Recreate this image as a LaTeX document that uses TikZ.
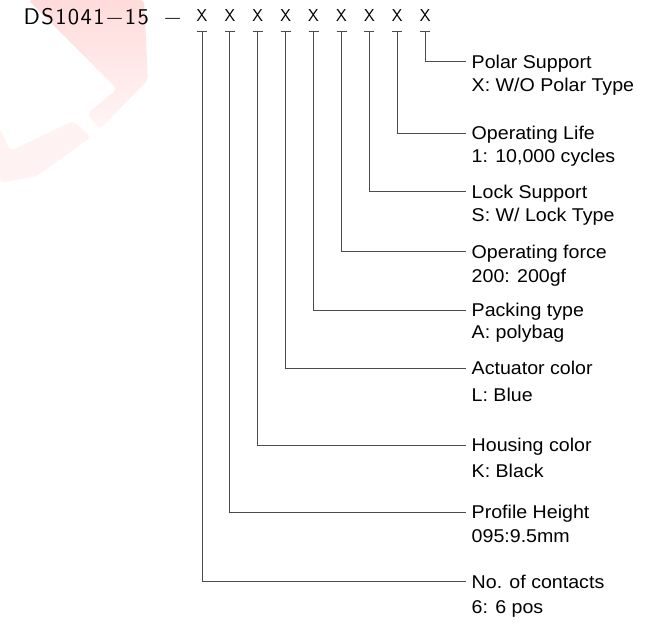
\documentclass[tikz,border=0pt]{standalone}
\usepackage{fontspec}
\usepackage{tikz}
\usetikzlibrary{positioning, calc}
\newfontfamily\labelfont[FakeStretch=1.06]{Liberation Sans}
\newfontfamily\cadfont[LetterSpace=6]{lmsans10-regular.otf}

\begin{document}
\begin{tikzpicture}[
  x=1pt, y=-1pt,
  title/.style={font=\cadfont\fontsize{22.6}{26}\selectfont, anchor=base west, inner sep=0pt},
  digit/.style={font=\sffamily\fontsize{17.2}{20}\selectfont, anchor=base, inner xsep=0pt, inner ysep=9.3pt, text depth=0pt},
  field/.style={font=\labelfont\fontsize{18.5}{21}\selectfont, anchor=west, inner xsep=5.5pt, inner ysep=0pt, text height=13.2pt, text depth=0pt},
  value/.style={field, anchor=north west},
  lead/.style={draw=black!70, line width=0.9pt}
]
\useasboundingbox (0,0) rectangle (653,628);

% Watermark
\shade[top color=red!14, bottom color=red!4, rounded corners=4pt]
  (28,0) -- (144,0) -- (148,80) -- (100,129) -- (87,114) -- (117,89) -- cycle;
\fill[red!5, rounded corners=4pt]
  (73,121) -- (91,137) -- (37,176) -- (0,183) -- (0,128) -- (10,151) -- cycle;

% Part number
\node[title] (part) at (23.5,25) {DS1041−15\kern15pt−};
\node[digit] (x_contacts) at (202,21.7) {X};
\node[digit] (x_height) at (229.9,21.7) {X};
\node[digit] (x_housing) at (257.8,21.7) {X};
\node[digit] (x_actuator) at (285.7,21.7) {X};
\node[digit] (x_packing) at (313.6,21.7) {X};
\node[digit] (x_force) at (341.5,21.7) {X};
\node[digit] (x_lock) at (369.4,21.7) {X};
\node[digit] (x_life) at (397.3,21.7) {X};
\node[digit] (x_polar) at (425.2,21.7) {X};

% Fields
\node[field] (lbl_polar) at (466,61.7) {Polar Support};
\node[value, below=16.4pt of lbl_polar.west, anchor=north west] (val_polar) {X: W/O Polar Type};
\node[field] (lbl_life) at (466,133.3) {Operating Life};
\node[value, below=15.4pt of lbl_life.west, anchor=north west] (val_life) {1: 10,000 cycles};
\node[field] (lbl_lock) at (466,191.7) {Lock Support};
\node[value, below=16.4pt of lbl_lock.west, anchor=north west] (val_lock) {S: W/ Lock Type};
\node[field] (lbl_force) at (466,251.7) {Operating force};
\node[value, below=17.4pt of lbl_force.west, anchor=north west] (val_force) {200: 200gf};
\node[field] (lbl_packing) at (466,310) {Packing type};
\node[value, below=15.4pt of lbl_packing.west, anchor=north west] (val_packing) {A: polybag};
\node[field] (lbl_actuator) at (466,368) {Actuator color};
\node[value, below=20.4pt of lbl_actuator.west, anchor=north west] (val_actuator) {L: Blue};
\node[field] (lbl_housing) at (466,445) {Housing color};
\node[value, below=19.4pt of lbl_housing.west, anchor=north west] (val_housing) {K: Black};
\node[field] (lbl_height) at (466,512) {Profile Height};
\node[value, below=17.4pt of lbl_height.west, anchor=north west] (val_height) {095:9.5mm};
\node[field] (lbl_contacts) at (466,581.7) {No. of contacts};
\node[value, below=18.4pt of lbl_contacts.west, anchor=north west] (val_contacts) {6: 6 pos};

% Leaders
\draw[lead] ([xshift=-5pt]x_contacts.south) -- ([xshift=5pt]x_contacts.south) (x_contacts.south) |- (lbl_contacts);
\draw[lead] ([xshift=-5pt]x_height.south) -- ([xshift=5pt]x_height.south) (x_height.south) |- (lbl_height);
\draw[lead] ([xshift=-5pt]x_housing.south) -- ([xshift=5pt]x_housing.south) (x_housing.south) |- (lbl_housing);
\draw[lead] ([xshift=-5pt]x_actuator.south) -- ([xshift=5pt]x_actuator.south) (x_actuator.south) |- (lbl_actuator);
\draw[lead] ([xshift=-5pt]x_packing.south) -- ([xshift=5pt]x_packing.south) (x_packing.south) |- (lbl_packing);
\draw[lead] ([xshift=-5pt]x_force.south) -- ([xshift=5pt]x_force.south) (x_force.south) |- (lbl_force);
\draw[lead] ([xshift=-5pt]x_lock.south) -- ([xshift=5pt]x_lock.south) (x_lock.south) |- (lbl_lock);
\draw[lead] ([xshift=-5pt]x_life.south) -- ([xshift=5pt]x_life.south) (x_life.south) |- (lbl_life);
\draw[lead] ([xshift=-5pt]x_polar.south) -- ([xshift=5pt]x_polar.south) (x_polar.south) |- (lbl_polar);

\end{tikzpicture}
\end{document}
